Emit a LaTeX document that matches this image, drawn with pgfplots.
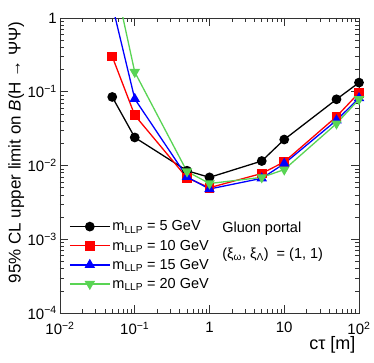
\documentclass[border=0pt]{standalone}
\usepackage{pgfplots}
\pgfplotsset{compat=1.18}
\usepackage{fontspec}
\setmainfont{Liberation Sans}
\definecolor{rootgreen}{RGB}{89,212,84}
\newcommand{\fs}[1]{\fontsize{#1}{#1}\selectfont}

\begin{document}
\begin{tikzpicture}
\begin{axis}[
    scale only axis,
    width=299pt, height=295pt,
    xmode=log, ymode=log,
    xmin=0.01, xmax=100,
    ymin=1e-4, ymax=1,
    xtick={0.01,0.1,1,10,100},
    xticklabels={10\textsuperscript{−2},10\textsuperscript{−1},1,10,10\textsuperscript{2}},
    ytick={1e-4,1e-3,1e-2,1e-1,1},
    yticklabels={10\textsuperscript{−4},10\textsuperscript{−3},10\textsuperscript{−2},10\textsuperscript{−1},1},
    tick label style={font=\fs{15}, inner sep=0pt},
    xticklabel style={yshift=-9pt},
    yticklabel style={xshift=-3pt},
    tick align=inside,
    major tick length=8pt,
    minor tick length=4pt,
    axis line style={black!80, line width=0.8pt},
    every tick/.style={black!80, line width=0.6pt},
    xlabel={cτ [m]},
    xlabel style={font=\fs{18}, at={(ticklabel cs:1)}, anchor=north east, yshift=2pt},
    ylabel={95\% CL upper limit on \textit{B}(H → ΨΨ)},
    ylabel style={font=\fs{17}, at={(ticklabel cs:1)}, anchor=south east},
    legend cell align=left,
    legend style={at={(rel axis cs:0.03,0.32)}, anchor=north west, draw=none, fill=none,
        font=\fs{14.5}, row sep=3.5pt, inner sep=0pt},
    legend image code/.code={\draw[mark repeat=2,mark phase=2,#1] plot coordinates {(0pt,0pt) (20pt,0pt) (40pt,0pt)};},
]
\addplot[black, line width=1.3pt, mark=*, mark size=4.2pt] coordinates {
(0.05,0.085) (0.1,0.024) (0.5,0.0085) (1,0.0069) (5,0.0115) (10,0.0225) (50,0.079) (100,0.133)};
\addlegendentry{m\textsubscript{LLP} = 5 GeV}
\addplot[red, line width=1.3pt, mark=square*, mark size=4.2pt] coordinates {
(0.05,0.30) (0.1,0.048) (0.5,0.0068) (1,0.0050) (5,0.0078) (10,0.0112) (50,0.046) (100,0.097)};
\addlegendentry{m\textsubscript{LLP} = 10 GeV}
\addplot[blue, line width=1.3pt, mark=triangle*, mark size=4.8pt] coordinates {
(0.05,1.5) (0.1,0.080) (0.5,0.0070) (1,0.0048) (5,0.0067) (10,0.0106) (50,0.041) (100,0.082)};
\addlegendentry{m\textsubscript{LLP} = 15 GeV}
\addplot[rootgreen, line width=1.3pt, mark=triangle*, mark size=4.8pt, mark options={rotate=180}] coordinates {
(0.05,4.7) (0.1,0.185) (0.5,0.0083) (1,0.0057) (5,0.0069) (10,0.0088) (50,0.037) (100,0.079)};
\addlegendentry{m\textsubscript{LLP} = 20 GeV}
\node[anchor=west, font=\fs{14.5}, inner sep=0pt] at (rel axis cs:0.542,0.285) {Gluon portal};
\node[anchor=west, font=\fs{14.5}, inner sep=0pt] at (rel axis cs:0.542,0.197) {(ξ\textsubscript{ω}, ξ\textsubscript{Λ})\ \ = (1, 1)};
\node[anchor=base west, font=\bfseries\fs{18}, inner sep=0pt] at ([yshift=2pt]rel axis cs:0,1) {CMS};
\node[anchor=base east, font=\fs{13}, inner sep=0pt] at ([yshift=4pt]rel axis cs:1,1) {138 fb\textsuperscript{−1} (13 TeV)};
\end{axis}
\pgfresetboundingbox
\path (-60pt,-50pt) rectangle (314pt,313pt);
\end{tikzpicture}
\end{document}
